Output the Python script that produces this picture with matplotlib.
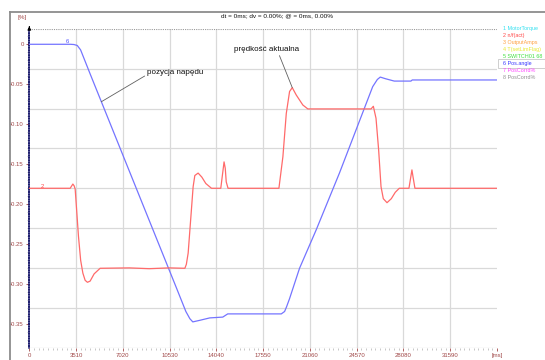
import numpy as np
import matplotlib
matplotlib.use("Agg")
import matplotlib.pyplot as plt
from matplotlib.lines import Line2D
from matplotlib.patches import Rectangle
from matplotlib.ticker import MultipleLocator

plt.rcParams['font.family'] = ['Liberation Sans', 'DejaVu Sans']

# time axis [ms]
x_ticks = [0, 3510, 7020, 10530, 14040, 17550, 21060, 24570, 28080, 31590]
x_max = 35100
y_ticks = [0, -0.05, -0.10, -0.15, -0.20, -0.25, -0.30, -0.35]
y_tick_labels = ['0', '-0.05', '-0.10', '-0.15', '-0.20', '-0.25', '-0.30', '-0.35']
y_lim = (-0.379, 0.0191)

# channel 6: drive position (Pos.angle)
pos_t = [0, 3070, 3350, 3600, 3850, 4565, 11054, 11750, 12050, 12270, 12800, 13545,
         14520, 14890, 18910, 19160, 19310, 19530, 20280, 21530, 23275, 25770,
         26120, 26340, 26720, 27390, 28640, 28740, 35100]
pos_v = [0, 0, -0.0003, -0.0015, -0.007, -0.037, -0.305, -0.334, -0.343, -0.347,
         -0.345, -0.342, -0.341, -0.337, -0.337, -0.334, -0.328, -0.318, -0.280,
         -0.232, -0.161, -0.053, -0.044, -0.041, -0.043, -0.046, -0.046, -0.0446,
         -0.0446]

# channel 2: actual speed n/f(act)
spd_t = [0, 3068, 3180, 3270, 3368, 3443, 3690, 3854, 4019, 4190, 4363, 4565,
         4864, 5314, 7500, 9000, 10500, 11675, 11787, 11922, 12296, 12423, 12670,
         12947, 13246, 13673, 14370, 14616, 14706, 14780, 14915, 18733, 19032,
         19286, 19533, 19735, 20034, 20528, 20902, 25648, 25820, 26020, 26217,
         26396, 26568, 26845, 27167, 27466, 27766, 28492, 28716, 28791, 28941,
         35100]
spd_v = [-0.18, -0.18, -0.177, -0.1747, -0.177, -0.181, -0.24, -0.27, -0.286,
         -0.295, -0.2975, -0.296, -0.287, -0.280, -0.2795, -0.2805, -0.2795,
         -0.280, -0.275, -0.261, -0.178, -0.164, -0.161, -0.166, -0.174, -0.180,
         -0.180, -0.147, -0.155, -0.172, -0.180, -0.180, -0.1405, -0.0865,
         -0.059, -0.0542, -0.0634, -0.0759, -0.0808, -0.0808, -0.0775, -0.0925,
         -0.132, -0.178, -0.193, -0.198, -0.193, -0.185, -0.180, -0.180, -0.157,
         -0.165, -0.180, -0.180]

channel_names = ['1 MotorTorque', '2 n/f(act)', '3 OutputAmps', '4 T(setLimFlag)',
                 '5 SWITCH01 68', '6 Pos.angle', '7 PosCorrd%', '8 PosCorrd%']
channel_colors = ['#30e0f0', '#ff4848', '#ffa040', '#e8e830',
                  '#40e040', '#3838ff', '#ff40ff', '#909090']

W, H = 545, 360
fig = plt.figure(figsize=(W / 100, H / 100), dpi=100)
fig.patch.set_facecolor('white')

def fx(px):
    return px / W

def fy(py):
    return 1 - py / H

left, right, top, bottom = 29.3, 497, 29, 347.5
ax = fig.add_axes([fx(left), fy(bottom), fx(right) - fx(left), fy(top) - fy(bottom)])
ax.set_xlim(0, x_max)
ax.set_ylim(*y_lim)

# grid: verticals at the time ticks, horizontals in eight equal bands
grid_c = '#d9d9d9'
for t in x_ticks[1:]:
    ax.axvline(t, color=grid_c, lw=0.9, zorder=0)
bands = np.linspace(y_lim[0], y_lim[1], 9)
for i, v in enumerate(bands):
    if i == len(bands) - 1:
        ax.axhline(v, color='#9a9a9a', lw=0.8, ls=(0, (1, 1)), zorder=0)
    else:
        ax.axhline(v, color=grid_c, lw=0.9, zorder=0)

for s in ['top', 'right', 'bottom']:
    ax.spines[s].set_visible(False)
ax.spines['left'].set_color('#202070')
ax.spines['left'].set_linewidth(1.1)
ax.spines['left'].set_linestyle((0, (1, 0.6)))

# traces
ax.plot(pos_t, pos_v, color='#7474ff', lw=0.9, zorder=3)
ax.plot(spd_t, spd_v, color='#ff6a6a', lw=0.9, zorder=3)

# channel numbers on the traces
ax.text(2890, 0.004, '6', color='#5050ff', fontsize=4.2, ha='center', va='center')
ax.text(950, -0.1775, '2', color='#ff4848', fontsize=4.2, ha='center', va='center')

# ticks
ax.set_yticks(y_ticks)
ax.set_yticklabels(y_tick_labels)
ax.set_xticks(x_ticks + [x_max])
ax.set_xticklabels([str(t) for t in x_ticks] + ['[ms]'])
ax.yaxis.set_minor_locator(MultipleLocator(0.01))
ax.xaxis.set_minor_locator(MultipleLocator(351))
ax.tick_params(axis='both', which='major', direction='out', length=2.5, width=0.6,
               colors='#a04848', labelsize=4.3, pad=1.5)
ax.tick_params(axis='both', which='minor', direction='out', length=1.5, width=0.5,
               colors='#b0b0b0')
ax.tick_params(axis='x', which='both', bottom=True)

# annotations
t_pos = 5408
ax.annotate('pozycja napędu', xy=(t_pos, np.interp(t_pos, pos_t, pos_v)),
            xytext=(8867, -0.035), fontsize=5.8, color='#101010',
            ha='left', va='center',
            arrowprops=dict(arrowstyle='-', color='#606060', lw=0.6,
                            shrinkA=0, shrinkB=0, relpos=(0, 0.2)))
i_pk = int(np.argmax(np.where(np.array(spd_t) > 18000, spd_v, -1)))
ax.annotate('prędkość aktualna', xy=(spd_t[i_pk], spd_v[i_pk]),
            xytext=(15366, -0.0063), fontsize=5.8, color='#101010',
            ha='left', va='center',
            arrowprops=dict(arrowstyle='-', color='#606060', lw=0.6,
                            shrinkA=0, shrinkB=0, relpos=(0.68, 0)))

# y-axis arrow head
ax.annotate('', xy=(left, H - 23.5), xytext=(left, H - 30), xycoords='figure pixels',
            textcoords='figure pixels',
            arrowprops=dict(arrowstyle='-|>', color='black', lw=0.7, mutation_scale=5))

# header texts
fig.text(fx(22), fy(17), '[%]', color='#a04848', fontsize=4.5, ha='center', va='center')
fig.text(fx(277), fy(16), 'dt = 0ms; dv = 0.00%; @ = 0ms, 0.00%', color='#101010',
         fontsize=4.6, ha='center', va='center')

# channel list
for k, (name, col) in enumerate(zip(channel_names, channel_colors)):
    fig.text(fx(503), fy(28.3 + 7.05 * k), name, color=col, fontsize=3.9,
             ha='left', va='center')
fig.add_artist(Rectangle((fx(498), fy(67.5)), fx(545) - fx(498), fy(59.5) - fy(67.5),
                         transform=fig.transFigure, fill=False, ec='#c8c8c8', lw=0.6))

# outer frame
fig.add_artist(Line2D([fx(10), 1], [fy(12), fy(12)], color='#8c8c8c', lw=1.3,
                      transform=fig.transFigure))
fig.add_artist(Line2D([fx(10), fx(10)], [fy(12), 0], color='#8c8c8c', lw=1.3,
                      transform=fig.transFigure))

fig.savefig('out.png', dpi=100)
